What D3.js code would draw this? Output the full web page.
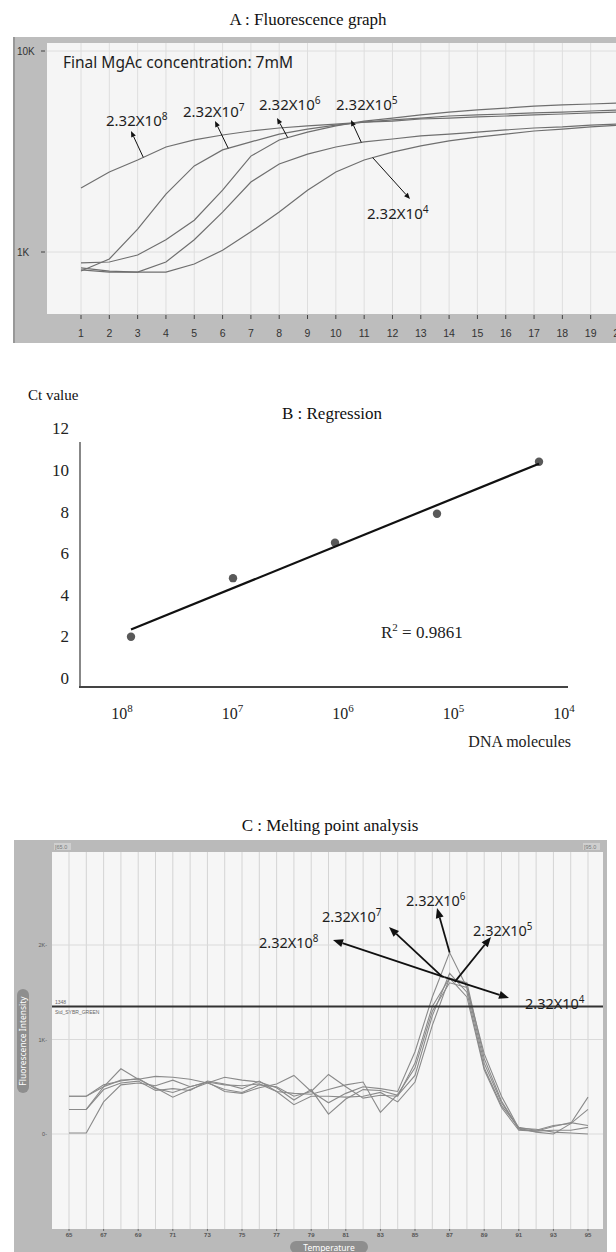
<!DOCTYPE html>
<html><head><meta charset="utf-8">
<script src="https://cdn.jsdelivr.net/npm/d3@7"></script>
<style>body{margin:0;background:#fff}svg{display:block}</style>
</head><body>
<svg id="fig" width="616" height="1252"></svg>
<script>
// ---------- Panel A: amplification curves ----------
const ampCycles = [1,2,3,4,5,6,7,8,9,10,11,12,13,14,15,16,17,18,19,20];
const amp1e8 = [2080,2500,2870,3330,3610,3820,4000,4140,4240,4330,4430,4480,4590,4640,4700,4750,4810,4860,4920,4970];
const amp1e7 = [804,923,1300,1940,2680,3220,3530,3860,4090,4280,4430,4540,4640,4750,4810,4860,4920,4970,5030,5090];
const amp1e6 = [882,892,966,1150,1440,2030,3000,3610,3950,4240,4480,4640,4810,4970,5090,5200,5320,5390,5450,5510];
const amp1e5 = [833,804,795,892,1150,1580,2230,2740,3070,3330,3530,3650,3780,3860,3950,4050,4140,4190,4280,4330];
const amp1e4 = [814,795,795,795,872,1020,1260,1580,2030,2500,2870,3140,3370,3570,3730,3860,4000,4090,4190,4280];
const ampYTicks = [1000, 10000];
const ampYTickLabels = ["1K", "10K"];
// cycle at which each label's arrow touches its curve
const ampArrowCycle = [3.2, 6.2, 8.3, 10.9, 11.3];

// ---------- Panel B: standard curve ----------
const dnaExponents = [8, 7, 6, 5, 4];
const ctValues = [1.98, 4.8, 6.5, 7.9, 10.4];
const ctTicks = [0, 2, 4, 6, 8, 10, 12];

// ---------- Panel C: melting curves ----------
const meltTemps = d3.range(65, 96);
const melt1 = [0.40,0.40,0.52,0.56,0.59,0.48,0.44,0.50,0.55,0.45,0.43,0.49,0.53,0.62,0.45,0.33,0.43,0.50,0.48,0.45,0.87,1.45,1.92,1.55,0.85,0.40,0.06,0.05,0.02,0.01,0.00];
const melt2 = [0.40,0.40,0.50,0.57,0.58,0.61,0.60,0.58,0.54,0.47,0.44,0.52,0.50,0.40,0.45,0.63,0.50,0.38,0.41,0.40,0.75,1.35,1.65,1.60,0.80,0.35,0.05,0.03,0.08,0.12,0.09];
const melt3 = [0.26,0.26,0.47,0.54,0.56,0.46,0.48,0.46,0.56,0.53,0.48,0.56,0.45,0.43,0.42,0.47,0.52,0.55,0.23,0.42,0.70,1.30,1.60,1.55,0.75,0.33,0.06,0.02,0.00,0.11,0.26];
const melt4 = [0.26,0.26,0.50,0.69,0.58,0.49,0.39,0.47,0.54,0.60,0.57,0.55,0.49,0.36,0.47,0.21,0.37,0.47,0.46,0.41,0.62,1.25,1.70,1.50,0.70,0.30,0.07,0.04,0.09,0.11,0.39];
const melt5 = [0.01,0.01,0.34,0.52,0.54,0.51,0.57,0.50,0.55,0.52,0.51,0.53,0.45,0.31,0.40,0.40,0.39,0.40,0.44,0.34,0.55,1.15,1.65,1.45,0.68,0.28,0.04,0.03,0.04,0.04,0.07];
const meltThreshold = 1348;
const meltYTicks = [0, 1000, 2000];
const meltYTickLabels = ["0", "1K", "2K"];
const meltXTicks = [65,67,69,71,73,75,77,79,81,83,85,87,89,91,93,95];
// arrow tails (temperature, fluorescence) for each dilution label
const meltArrowTail = [[86.7,1660],[86.6,1660],[87.0,1920],[87.3,1610],[86.7,1660]];

const dilutionExp = ["8","7","6","5","4"];

const svg = d3.select("#fig");
const serif = "'Liberation Serif','Times New Roman',serif";
const sans = "'Noto Sans','Open Sans',sans-serif";

function arrow(g, x1, y1, x2, y2, width, headLen, headW) {
  const a = Math.atan2(y2 - y1, x2 - x1);
  const bx = x2 - headLen * Math.cos(a), by = y2 - headLen * Math.sin(a);
  g.append("line").attr("x1", x1).attr("y1", y1).attr("x2", bx).attr("y2", by)
    .attr("stroke", "#111").attr("stroke-width", width);
  const px = -Math.sin(a) * headW / 2, py = Math.cos(a) * headW / 2;
  g.append("path").attr("d", `M${x2},${y2}L${bx + px},${by + py}L${bx - px},${by - py}Z`).attr("fill", "#111");
}
function dilutionLabel(g, x, y, exp, size) {
  const t = g.append("text").attr("x", x).attr("y", y).attr("font-family", sans)
    .attr("font-size", size).attr("fill", "#1e1e1e");
  t.append("tspan").text("2.32X10");
  t.append("tspan").attr("dy", -size * 0.42).attr("font-size", size * 0.68).text(exp);
}

// ================= Panel A =================
{
  const g = svg.append("g");
  g.append("text").attr("x", 308).attr("y", 25).attr("text-anchor", "middle")
    .attr("font-family", serif).attr("font-size", 17).attr("fill", "#111").text("A : Fluorescence graph");
  g.append("rect").attr("x", 13).attr("y", 37).attr("width", 603).attr("height", 306).attr("fill", "#bdbdbd");
  g.append("line").attr("x1", 14).attr("x2", 14).attr("y1", 37).attr("y2", 343).attr("stroke", "#8d8d8d").attr("stroke-width", 1.5);
  const pl = {x0: 47, x1: 616, y0: 43, y1: 314};
  g.append("rect").attr("x", pl.x0).attr("y", pl.y0).attr("width", pl.x1 - pl.x0).attr("height", pl.y1 - pl.y0).attr("fill", "#f5f5f5");
  svg.append("clipPath").attr("id", "clipA").append("rect")
    .attr("x", pl.x0).attr("y", pl.y0).attr("width", pl.x1 - pl.x0).attr("height", pl.y1 - pl.y0);

  const x = d3.scaleLinear().domain([1, 20]).range([81, 619]);
  const y = d3.scaleLog().domain([1000, 10000]).range([252, 51]);

  const grid = g.append("g").attr("clip-path", "url(#clipA)");
  grid.selectAll("line.v").data(ampCycles).join("line").attr("class", "v")
    .attr("x1", d => x(d)).attr("x2", d => x(d)).attr("y1", pl.y0).attr("y2", pl.y1)
    .attr("stroke", "#dedede").attr("stroke-width", 1);
  grid.selectAll("line.h").data(ampYTicks).join("line").attr("class", "h")
    .attr("x1", pl.x0).attr("x2", pl.x1).attr("y1", d => y(d)).attr("y2", d => y(d))
    .attr("stroke", "#dedede").attr("stroke-width", 1);

  // y ticks
  g.selectAll("text.yl").data(ampYTicks).join("text").attr("class", "yl")
    .attr("x", 17).attr("y", d => y(d) + 3.5).attr("font-family", "'Liberation Sans',Arial,sans-serif")
    .attr("font-size", 10).attr("fill", "#333").text((d, i) => ampYTickLabels[i]);
  g.selectAll("line.yt").data(ampYTicks).join("line").attr("class", "yt")
    .attr("x1", 41).attr("x2", 45).attr("y1", d => y(d)).attr("y2", d => y(d)).attr("stroke", "#444");

  // x ticks
  g.selectAll("line.xt").data(ampCycles).join("line").attr("class", "xt")
    .attr("x1", d => x(d)).attr("x2", d => x(d)).attr("y1", 315).attr("y2", 319).attr("stroke", "#444").attr("stroke-width", 1);
  g.selectAll("text.xl").data(ampCycles).join("text").attr("class", "xl")
    .attr("x", d => x(d)).attr("y", 337).attr("text-anchor", "middle")
    .attr("font-family", "'Liberation Sans',Arial,sans-serif").attr("font-size", 10.5).attr("fill", "#333").text(d => d);

  const series = [amp1e8, amp1e7, amp1e6, amp1e5, amp1e4];
  const line = d3.line().x((d, i) => x(ampCycles[i])).y(d => y(d));
  grid.selectAll("path.c").data(series).join("path").attr("class", "c")
    .attr("d", line).attr("fill", "none").attr("stroke", "#6f6f6f").attr("stroke-width", 1.2);

  g.append("text").attr("x", 63).attr("y", 68).attr("font-family", sans).attr("font-size", 15.5)
    .attr("fill", "#1e1e1e").text("Final MgAc concentration: 7mM");

  // labels with arrows pointing from each curve
  const labelPos = [[106, 126], [183, 117], [259, 110], [336, 110], [367, 219]];
  const heads = [[131, 131], [215, 121], [277, 118], [351, 120], [410, 199]];
  series.forEach((s, i) => {
    dilutionLabel(g, labelPos[i][0], labelPos[i][1], dilutionExp[i], 15);
    const c = ampArrowCycle[i];
    const k = Math.floor(c) - 1, f = c - Math.floor(c);
    const ty = y(s[k]) * (1 - f) + y(s[k + 1]) * f;
    arrow(g, x(c), ty, heads[i][0], heads[i][1], 1, 6, 5);
  });
}

// ================= Panel B =================
{
  const g = svg.append("g");
  const y = d3.scaleLinear().domain([0, 12]).range([678, 428.4]);
  const xTick = d3.scaleLinear().domain([8, 4]).range([125, 567]);
  const xPt = d3.scaleLinear().domain([8, 4]).range([131, 539]);

  g.append("text").attr("x", 28).attr("y", 400).attr("font-family", serif).attr("font-size", 15)
    .attr("fill", "#111").text("Ct value");
  g.append("text").attr("x", 332).attr("y", 419).attr("text-anchor", "middle").attr("font-family", serif)
    .attr("font-size", 17).attr("fill", "#111").text("B : Regression");

  g.append("line").attr("x1", 80).attr("x2", 80).attr("y1", y(11.35)).attr("y2", y(-0.43))
    .attr("stroke", "#555").attr("stroke-width", 1.4);
  g.append("line").attr("x1", 79).attr("x2", 568).attr("y1", y(-0.43)).attr("y2", y(-0.43))
    .attr("stroke", "#444").attr("stroke-width", 2);

  g.selectAll("text.yl").data(ctTicks).join("text").attr("class", "yl")
    .attr("x", 69).attr("y", d => y(d) + 6).attr("text-anchor", "end")
    .attr("font-family", serif).attr("font-size", 17).attr("fill", "#222").text(d => d);

  const xl = g.selectAll("text.xl").data(dnaExponents).join("text").attr("class", "xl")
    .attr("x", d => xTick(d) - 3).attr("y", 719).attr("text-anchor", "middle")
    .attr("font-family", serif).attr("font-size", 16).attr("fill", "#222");
  xl.append("tspan").text("10");
  xl.append("tspan").attr("dy", -7).attr("font-size", 11).text(d => d);

  // least-squares fit of Ct against log10 of input
  const mx = d3.mean(dnaExponents), my = d3.mean(ctValues);
  let sxy = 0, sxx = 0, syy = 0;
  dnaExponents.forEach((e, i) => {
    sxy += (e - mx) * (ctValues[i] - my); sxx += (e - mx) ** 2; syy += (ctValues[i] - my) ** 2;
  });
  const slope = sxy / sxx, icpt = my - slope * mx, r2 = sxy * sxy / (sxx * syy);
  const ex = d3.extent(dnaExponents);

  g.selectAll("circle").data(dnaExponents).join("circle")
    .attr("cx", d => xPt(d)).attr("cy", (d, i) => y(ctValues[i])).attr("r", 4.2).attr("fill", "#595959");
  g.append("line").attr("x1", xPt(ex[1])).attr("y1", y(icpt + slope * ex[1]))
    .attr("x2", xPt(ex[0])).attr("y2", y(icpt + slope * ex[0]))
    .attr("stroke", "#111").attr("stroke-width", 2.2);

  const rt = g.append("text").attr("x", 381).attr("y", 638).attr("font-family", serif)
    .attr("font-size", 17).attr("fill", "#222");
  rt.append("tspan").text("R");
  rt.append("tspan").attr("dy", -7).attr("font-size", 11).text("2");
  rt.append("tspan").attr("dy", 7).text(" = " + r2.toFixed(4));

  g.append("text").attr("x", 571).attr("y", 747).attr("text-anchor", "end").attr("font-family", serif)
    .attr("font-size", 16).attr("fill", "#222").text("DNA molecules");
}

// ================= Panel C =================
{
  const g = svg.append("g");
  g.append("text").attr("x", 330).attr("y", 831).attr("text-anchor", "middle").attr("font-family", serif)
    .attr("font-size", 17).attr("fill", "#111").text("C : Melting point analysis");
  g.append("rect").attr("x", 14).attr("y", 840).attr("width", 593).attr("height", 412).attr("fill", "#bababa");
  const pl = {x0: 52, x1: 603, y0: 852, y1: 1229};
  g.append("rect").attr("x", pl.x0).attr("y", pl.y0).attr("width", pl.x1 - pl.x0).attr("height", pl.y1 - pl.y0).attr("fill", "#f6f6f6");

  const x = d3.scaleLinear().domain([65, 95]).range([69, 588]);
  const y = d3.scaleLinear().domain([0, 2000]).range([1134, 945]);

  g.selectAll("line.v").data(meltTemps).join("line").attr("class", "v")
    .attr("x1", d => x(d)).attr("x2", d => x(d)).attr("y1", pl.y0).attr("y2", pl.y1)
    .attr("stroke", "#d4d4d4").attr("stroke-width", 1);
  g.selectAll("line.h").data(meltYTicks).join("line").attr("class", "h")
    .attr("x1", pl.x0).attr("x2", pl.x1).attr("y1", d => y(d)).attr("y2", d => y(d))
    .attr("stroke", "#dadada").attr("stroke-width", 1);

  g.selectAll("text.yl").data(meltYTicks).join("text").attr("class", "yl")
    .attr("x", 47).attr("y", d => y(d) + 2).attr("text-anchor", "end")
    .attr("font-family", "'Liberation Sans',Arial,sans-serif").attr("font-size", 5.5).attr("fill", "#555")
    .text((d, i) => meltYTickLabels[i] + "-");

  g.selectAll("text.xl").data(meltXTicks).join("text").attr("class", "xl")
    .attr("x", d => x(d)).attr("y", 1237).attr("text-anchor", "middle")
    .attr("font-family", "'Liberation Sans',Arial,sans-serif").attr("font-weight", "bold")
    .attr("font-size", 6).attr("fill", "#555").text(d => d);
  g.selectAll("line.xt").data(meltXTicks).join("line").attr("class", "xt")
    .attr("x1", d => x(d)).attr("x2", d => x(d)).attr("y1", 1229).attr("y2", 1231).attr("stroke", "#666");

  // range markers at the top corners
  [[55, "[65.0"], [584, "[95.0"]].forEach(([px, t]) => {
    g.append("rect").attr("x", px - 1).attr("y", 843).attr("width", 17).attr("height", 7).attr("fill", "#cfcfcf");
    g.append("text").attr("x", px).attr("y", 848.5).attr("font-family", "'Liberation Sans',Arial,sans-serif")
      .attr("font-size", 5.5).attr("fill", "#7a7a7a").text(t);
  });

  // axis title pills
  g.append("rect").attr("x", 290).attr("y", 1241).attr("width", 78).attr("height", 12).attr("rx", 6).attr("fill", "#8e8e8e");
  g.append("text").attr("x", 329).attr("y", 1250.5).attr("text-anchor", "middle").attr("font-family", sans)
    .attr("font-size", 8.5).attr("fill", "#fff").text("Temperature");
  const yp = g.append("g").attr("transform", "translate(23,1041) rotate(-90)");
  yp.append("rect").attr("x", -52).attr("y", -6).attr("width", 104).attr("height", 12).attr("rx", 6).attr("fill", "#8e8e8e");
  yp.append("text").attr("x", 0).attr("y", 3).attr("text-anchor", "middle").attr("font-family", sans)
    .attr("font-size", 8.5).attr("fill", "#fff").text("Fluorescence Intensity");

  const series = [melt1, melt2, melt3, melt4, melt5];
  const line = d3.line().x((d, i) => x(meltTemps[i])).y(d => y(d * 1000));
  g.selectAll("path.c").data(series).join("path").attr("class", "c")
    .attr("d", line).attr("fill", "none").attr("stroke", "#8a8a8a").attr("stroke-width", 1.1);

  // threshold
  g.append("line").attr("x1", pl.x0).attr("x2", pl.x1).attr("y1", y(meltThreshold)).attr("y2", y(meltThreshold))
    .attr("stroke", "#333").attr("stroke-width", 2);
  g.append("text").attr("x", 55).attr("y", y(meltThreshold) - 3).attr("font-family", "'Liberation Sans',Arial,sans-serif")
    .attr("font-size", 5).attr("fill", "#666").text(meltThreshold);
  g.append("text").attr("x", 55).attr("y", y(meltThreshold) + 7).attr("font-family", "'Liberation Sans',Arial,sans-serif")
    .attr("font-size", 5).attr("fill", "#666").text("Std_SYBR_GREEN");

  // dilution labels and arrows to the melt peak
  const labelPos = [[259, 948], [322, 922], [406, 906], [473, 936], [525, 1009]];
  const heads = [[333, 940], [389, 927], [437, 908], [491, 937], [509, 998]];
  labelPos.forEach((p, i) => {
    dilutionLabel(g, p[0], p[1], dilutionExp[i], 14.5);
    const t = meltArrowTail[i];
    arrow(g, x(t[0]), y(t[1]), heads[i][0], heads[i][1], 1.8, 10, 8);
  });
}
</script>
</body></html>
